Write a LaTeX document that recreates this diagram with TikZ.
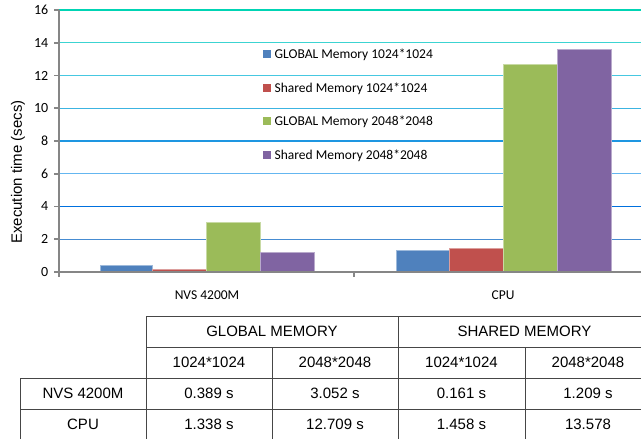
\documentclass[tikz,border=0pt]{standalone}
\usepackage{fontspec}
\setmainfont{Liberation Sans}
\newfontfamily\calfont{Carlito}
\definecolor{barblue}{RGB}{79,129,189}
\definecolor{barred}{RGB}{192,80,77}
\definecolor{bargreen}{RGB}{155,187,89}
\definecolor{barpurple}{RGB}{128,100,162}
\definecolor{axisgray}{RGB}{134,134,134}
\definecolor{tablegray}{RGB}{70,70,70}
\definecolor{gA}{RGB}{70,140,210}
\definecolor{gB}{RGB}{0,112,222}
\definecolor{gC}{RGB}{100,182,240}
\definecolor{gD}{RGB}{30,150,225}
\definecolor{gE}{RGB}{60,180,225}
\definecolor{gF}{RGB}{70,200,225}
\definecolor{gG}{RGB}{60,212,210}
\definecolor{gH}{RGB}{0,212,180}
\begin{document}
\begin{tikzpicture}[x=1pt,y=-1pt,
  ticklabel/.style={font=\calfont\fontsize{14}{14}\selectfont, anchor=east, inner sep=0pt},
  catlabel/.style={font=\calfont\fontsize{13.5}{14}\selectfont, inner sep=0pt},
  legtext/.style={font=\calfont\fontsize{13.5}{14}\selectfont, anchor=west, inner sep=0pt},
  axisline/.style={draw=axisgray, line width=1.6pt},
  gridline/.style={line width=1.1pt},
  bar/.style={line width=0.5pt},
  tabline/.style={draw=tablegray, line width=0.9pt},
  cell/.style={font=\fontsize{15}{15}\selectfont, inner sep=0pt}]
\useasboundingbox (0,0) rectangle (641,439);
\clip (0,0) rectangle (641,439);
\fill[white] (0,0) rectangle (641,439);
% gridlines
\foreach \v/\c in {2/gA,4/gB,6/gC,8/gD,10/gE,12/gF,14/gG,16/gH}{
  \draw[gridline,\c] (59,{272-16.375*\v}) -- (641,{272-16.375*\v});
}
% bars NVS 4200M
\filldraw[bar,fill=barblue,draw=barblue!55!white] (100,272) rectangle (152,{272-16.375*0.389});
\filldraw[bar,fill=barred,draw=barred!55!white] (152,272) rectangle (206,{272-16.375*0.161});
\filldraw[bar,fill=bargreen,draw=bargreen!55!white] (206,272) rectangle (260,{272-16.375*3.052});
\filldraw[bar,fill=barpurple,draw=barpurple!55!white] (260,272) rectangle (314,{272-16.375*1.209});
% bars CPU
\filldraw[bar,fill=barblue,draw=barblue!55!white] (396,272) rectangle (449,{272-16.375*1.338});
\filldraw[bar,fill=barred,draw=barred!55!white] (449,272) rectangle (503,{272-16.375*1.458});
\filldraw[bar,fill=bargreen,draw=bargreen!55!white] (503,272) rectangle (557,{272-16.375*12.709});
\filldraw[bar,fill=barpurple,draw=barpurple!55!white] (557,272) rectangle (611,{272-16.375*13.578});
% axes
\draw[axisline] (59,9.5) -- (59,277);
\draw[axisline] (59,272) -- (641,272);
\draw[axisline] (354,272) -- (354,277);
\foreach \v in {0,2,...,16}{
  \draw[axisline] (54,{272-16.375*\v}) -- (59,{272-16.375*\v});
  \node[ticklabel] (t\v) at (48.5,{272-16.375*\v}) {\v};
}
\node[font=\fontsize{15}{15}\selectfont, rotate=90, inner sep=0pt] (ytitle) at (18,172) {Execution time (secs)};
\node[catlabel] (catnvs) at (207,295.5) {NVS 4200M};
\node[catlabel] (catcpu) at (503,295.5) {CPU};
% legend
\fill[barblue] (263,50) rectangle (271,58);
\node[legtext] (l1) at (274.5,54.5) {GLOBAL Memory 1024*1024};
\fill[barred] (263,84) rectangle (271,92);
\node[legtext] (l2) at (274.5,88.5) {Shared Memory 1024*1024};
\fill[bargreen] (263,117) rectangle (271,125);
\node[legtext] (l3) at (274.5,121.5) {GLOBAL Memory 2048*2048};
\fill[barpurple] (263,151) rectangle (271,159);
\node[legtext] (l4) at (274.5,155.5) {Shared Memory 2048*2048};
% table
\draw[tabline] (146,316) -- (651,316);
\draw[tabline] (146,347) -- (651,347);
\draw[tabline] (20,378) -- (651,378);
\draw[tabline] (20,409) -- (651,409);
\draw[tabline] (146,316) -- (146,441);
\draw[tabline] (398,316) -- (398,441);
\draw[tabline] (20,378) -- (20,441);
\draw[tabline] (272,347) -- (272,441);
\draw[tabline] (525,347) -- (525,441);
\node[cell] (hg) at (272,331.5) {GLOBAL MEMORY};
\node[cell] (hs) at (524.5,331.5) {SHARED MEMORY};
\node[cell] (s1) at (209,362.5) {1024*1024};
\node[cell] (s2) at (335,362.5) {2048*2048};
\node[cell] (s3) at (461.5,362.5) {1024*1024};
\node[cell] (s4) at (588,362.5) {2048*2048};
\node[cell] (rn) at (83,393.5) {NVS 4200M};
\node[cell] (rc) at (83,424.5) {CPU};
\node[cell] (a1) at (209,393.5) {0.389 s};
\node[cell] (a2) at (335,393.5) {3.052 s};
\node[cell] (a3) at (461.5,393.5) {0.161 s};
\node[cell] (a4) at (588,393.5) {1.209 s};
\node[cell] (b1) at (209,424.5) {1.338 s};
\node[cell] (b2) at (335,424.5) {12.709 s};
\node[cell] (b3) at (461.5,424.5) {1.458 s};
\node[cell] (b4) at (588,424.5) {13.578};
\end{tikzpicture}
\end{document}
